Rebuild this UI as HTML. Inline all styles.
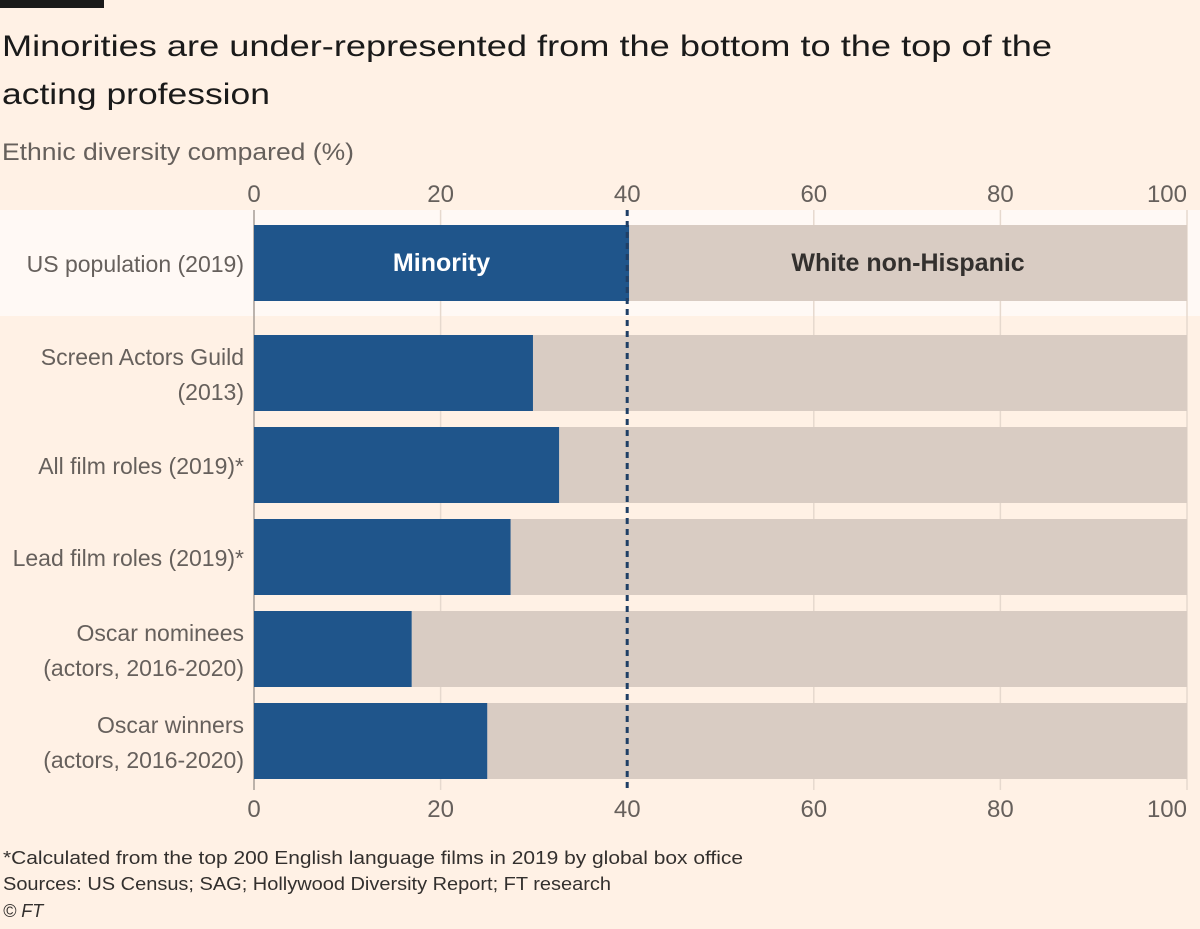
<!DOCTYPE html>
<html><head><meta charset="utf-8"><style>
body{margin:0;background:#fff1e5;width:1200px;height:924px;overflow:hidden;font-family:"Liberation Sans",sans-serif}
</style></head><body>
<svg id="chart" width="1200" height="924" xmlns="http://www.w3.org/2000/svg" font-family="Liberation Sans, sans-serif">
<rect x="0" y="0" width="1200" height="924" fill="#fff1e5"/>
<rect x="0" y="0" width="104" height="8" fill="#1a1a1a"/>
<text x="2" y="56" font-size="30" fill="#1a1a1a" textLength="1050" lengthAdjust="spacingAndGlyphs">Minorities are under-represented from the bottom to the top of the</text>
<text x="2" y="104" font-size="30" fill="#1a1a1a" textLength="268" lengthAdjust="spacingAndGlyphs">acting profession</text>
<text x="2" y="160" font-size="24" fill="#66605c" textLength="352" lengthAdjust="spacingAndGlyphs">Ethnic diversity compared (%)</text>
<rect x="0" y="210" width="1200" height="106" fill="#fff9f5"/>
<g id="grid"></g>
<g id="bars"></g>
<g id="labels"></g>
<text x="3" y="864" font-size="18" fill="#33302e" textLength="740" lengthAdjust="spacingAndGlyphs">*Calculated from the top 200 English language films in 2019 by global box office</text>
<text x="3" y="890" font-size="18" fill="#33302e" textLength="608" lengthAdjust="spacingAndGlyphs">Sources: US Census; SAG; Hollywood Diversity Report; FT research</text>
<text x="3" y="917" font-size="18" fill="#33302e" font-style="italic">© FT</text>
</svg>
<script>
const categories=[["US population (2019)"],["Screen Actors Guild","(2013)"],["All film roles (2019)*"],["Lead film roles (2019)*"],["Oscar nominees","(actors, 2016-2020)"],["Oscar winners","(actors, 2016-2020)"]];
const minority=[40.2,29.9,32.7,27.5,16.9,25.0];
const ticks=[0,20,40,60,80,100];
const refLine=40;
const NS="http://www.w3.org/2000/svg";
const x=v=>254+v*(1187-254)/100;
const rowTop=[225,335,427,519,611,703];
const barH=76;
function mk(tag,attrs,parent,txt){const e=document.createElementNS(NS,tag);for(const k in attrs)e.setAttribute(k,attrs[k]);if(txt!==undefined)e.textContent=txt;parent.appendChild(e);return e;}
const grid=document.getElementById('grid'),bars=document.getElementById('bars'),labels=document.getElementById('labels');
ticks.forEach((t,i)=>{
  if(t!==refLine){const l=mk('line',{x1:x(t),x2:x(t),y1:210,y2:790,stroke:t===0?'#a69d96':'#e6d9ce','stroke-width':1.5},grid);
  
  }
  const a=mk('text',{x:x(t),y:202,'font-size':24,fill:'#66605c','text-anchor':t===100?'end':'middle'},labels,String(t));
  
  
  const b=mk('text',{x:x(t),y:817,'font-size':24,fill:'#66605c','text-anchor':t===100?'end':'middle'},labels,String(t));
  
  
});
categories.forEach((c,i)=>{
  const y=rowTop[i];
  const w=mk('rect',{x:x(minority[i]),y:y,width:x(100)-x(minority[i]),height:barH,fill:'#d9ccc3'},bars);
  
  
  const m=mk('rect',{x:x(0),y:y,width:x(minority[i])-x(0),height:barH,fill:'#1f558b'},bars);
  
  
  const cy=y+barH/2;
  c.forEach((line,j)=>{
    const yy=c.length===1?cy+9:cy-8+j*35;
    const t=mk('text',{x:244,y:yy,'font-size':23,fill:'#66605c','text-anchor':'end'},labels,line);
    
    
  });
});
const rl=mk('line',{x1:x(refLine),x2:x(refLine),y1:210,y2:790,stroke:'#1f3f66','stroke-width':3,'stroke-dasharray':'6,5'},bars);


const l1=mk('text',{x:(x(0)+x(minority[0]))/2,y:271,'font-size':25,'font-weight':'bold',fill:'#ffffff','text-anchor':'middle'},labels,'Minority');


const l2=mk('text',{x:(x(minority[0])+x(100))/2,y:271,'font-size':25,'font-weight':'bold',fill:'#33302e','text-anchor':'middle'},labels,'White non-Hispanic');


</script>
</body></html>
